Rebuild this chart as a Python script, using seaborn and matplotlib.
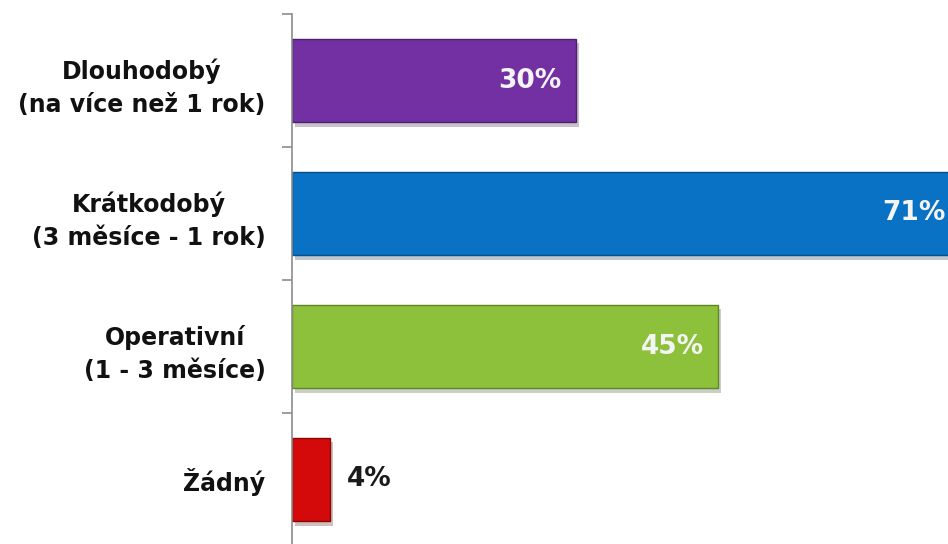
import matplotlib
matplotlib.use("Agg")
import matplotlib.pyplot as plt
import matplotlib.patheffects as pe
import seaborn as sns
import pandas as pd

categories = ["Dlouhodobý\n(na více než 1 rok)", "Krátkodobý\n(3 měsíce - 1 rok)",
              "Operativní\n(1 - 3 měsíce)", "Žádný"]
values = [30, 71, 45, 4]
value_labels = ["30%", "71%", "45%", "4%"]
colors = ["#7330A2", "#0A72C4", "#8DC13C", "#D40A0A"]
edge_colors = ["#4E1F70", "#064F88", "#5F8527", "#8A0505"]

sns.set_theme(style="white")
plt.rcParams['font.family'] = ['DejaVu Sans']

df = pd.DataFrame({"cat": categories, "val": values})

fig = plt.figure(figsize=(9.48, 5.44), dpi=100)
ax = fig.add_axes([292/948, -2/544, 1 - 292/948, 532/544])
sns.barplot(data=df, y="cat", x="val", hue="cat", palette=colors, legend=False,
            orient="h", width=0.63, ax=ax, saturation=1)

for p, ec in zip(ax.patches, edge_colors):
    p.set_edgecolor(ec)
    p.set_linewidth(1.0)
    p.set_path_effects([pe.SimplePatchShadow(offset=(2, -3), alpha=0.25), pe.Normal()])

xmax = (948 - 292) / 9.47
ax.set_xlim(0, xmax)
ax.set_ylim(3.5, -0.5)

for i, (v, lab) in enumerate(zip(values, value_labels)):
    if v > 10:
        xpos = min(v - 1.5, xmax - 0.3)
        ax.text(xpos, i, lab, ha="right", va="center", color="#F4F4F4",
                fontsize=19, fontweight="bold")
    else:
        ax.text(v + 1.8, i, lab, ha="left", va="center", color="#1A1A1A",
                fontsize=19, fontweight="bold")

ax.set_xlabel("")
ax.set_ylabel("")
ax.set_xticks([])
for s in ["top", "right", "bottom"]:
    ax.spines[s].set_visible(False)
ax.spines["left"].set_color("#8C8C8C")
ax.spines["left"].set_linewidth(1.2)

ax.set_yticks(range(len(categories)))
ax.set_yticklabels(categories, fontsize=17, fontweight="bold", color="#111111",
                   multialignment="center", linespacing=1.5)
ax.tick_params(axis="y", which="major", length=0, pad=19)
ax.set_yticks([-0.5, 0.5, 1.5, 2.5, 3.5], minor=True)
ax.tick_params(axis="y", which="minor", length=7, width=1.2, color="#8C8C8C", left=True)

fig.savefig("out.png", dpi=100)
